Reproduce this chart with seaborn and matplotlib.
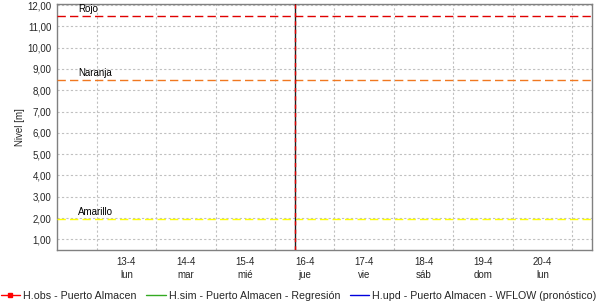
import numpy as np
import pandas as pd
import matplotlib
matplotlib.use("Agg")
import matplotlib.pyplot as plt
import seaborn as sns
from matplotlib.ticker import FixedLocator, MultipleLocator, FuncFormatter

sns.set_theme(style="white")
plt.rcParams['font.family'] = ['Liberation Sans', 'DejaVu Sans']

# ---- data ----
day_labels = ["13-4", "14-4", "15-4", "16-4", "17-4", "18-4", "19-4", "20-4"]
weekday_labels = ["lun", "mar", "mié", "jue", "vie", "sáb", "dom", "lun"]
threshold_names = ["Rojo", "Naranja", "Amarillo"]
threshold_values = [11.5, 8.5, 1.95]
threshold_colors = ["#e00000", "#f07820", "#ffff00"]
now_day = 4 + 8 / 24          # 16-4 08:00 (days from 12-4 00:00)
x_start = now_day - 4
x_end = now_day + 5
y_ticks = [1, 2, 3, 4, 5, 6, 7, 8, 9, 10, 11, 12]
series_names = ["H.obs - Puerto Almacen",
                "H.sim - Puerto Almacen - Regresión",
                "H.upd - Puerto Almacen - WFLOW (pronóstico)"]
series_colors = ["#ff0000", "#33aa22", "#0000dd"]
obs_t, obs_v = [], []
sim_t, sim_v = [], []
upd_t, upd_v = [], []

fig = plt.figure(figsize=(6.0, 3.06), dpi=100)
ax = fig.add_axes([57 / 600, 1 - 250 / 306, 535 / 600, 246 / 306])

df = pd.concat([
    pd.DataFrame({"t": obs_t, "v": obs_v, "s": series_names[0]}),
    pd.DataFrame({"t": sim_t, "v": sim_v, "s": series_names[1]}),
    pd.DataFrame({"t": upd_t, "v": upd_v, "s": series_names[2]}),
])
handles = []
for name, col, mk in zip(series_names, series_colors, ["s", None, None]):
    sub = df[df["s"] == name]
    sns.lineplot(x=sub["t"].astype(float), y=sub["v"].astype(float), ax=ax,
                 color=col, lw=1)
    h, = ax.plot([], [], color=col, lw=1, marker=mk, markersize=3)
    handles.append(h)

for name, val, col in zip(threshold_names, threshold_values, threshold_colors):
    ax.axhline(val, color=col, lw=1, ls=(0, (6, 3)), zorder=3)
    ax.text(x_start + 21 / 59.4, val + 0.08, name, fontsize=7, color="black",
            ha="left", va="bottom", zorder=4)

ax.axvline(now_day, color="#202020", lw=1, zorder=4)
ax.axvline(now_day, color="#e00000", lw=1, ls=(0, (3, 3)), zorder=5)

ax.set_xlim(x_start, x_end)
ax.set_ylim(0.5, 12.05)

ax.yaxis.set_major_locator(FixedLocator(y_ticks))
ax.yaxis.set_major_formatter(FuncFormatter(lambda v, p: f"{v:.2f}".replace(".", ",")))

ax.xaxis.set_major_locator(FixedLocator(np.arange(1, 10)))
ax.xaxis.set_minor_locator(MultipleLocator(0.125))
ax.set_xticklabels([])
ax.tick_params(axis="x", which="major", length=0)
ax.tick_params(axis="x", which="minor", length=2, width=0.8, color="#404040", direction="out")
ax.tick_params(axis="y", which="major", length=2, width=0.8, color="#404040",
               direction="out", labelsize=7, pad=2)
for i, (d, w) in enumerate(zip(day_labels, weekday_labels)):
    ax.text(i + 1.5, -0.03, f"{d}\n{w}", transform=ax.get_xaxis_transform(),
            ha="center", va="top", fontsize=7, linespacing=1.3)

ax.grid(True, which="major", color="#c0c0c0", lw=0.8, ls=(0, (2, 2)))
for s in ax.spines.values():
    s.set_color("#808080")
    s.set_linewidth(1)
ax.set_xlabel("")
ax.set_ylabel("Nivel [m]", fontsize=7, labelpad=2)

fig.legend(handles, series_names, loc="center", bbox_to_anchor=(0.498, 1 - 296 / 306),
           ncol=3, frameon=False, fontsize=7.7, handlelength=1.8, handletextpad=0.3,
           columnspacing=0.9)

fig.savefig("out.png", dpi=100)
